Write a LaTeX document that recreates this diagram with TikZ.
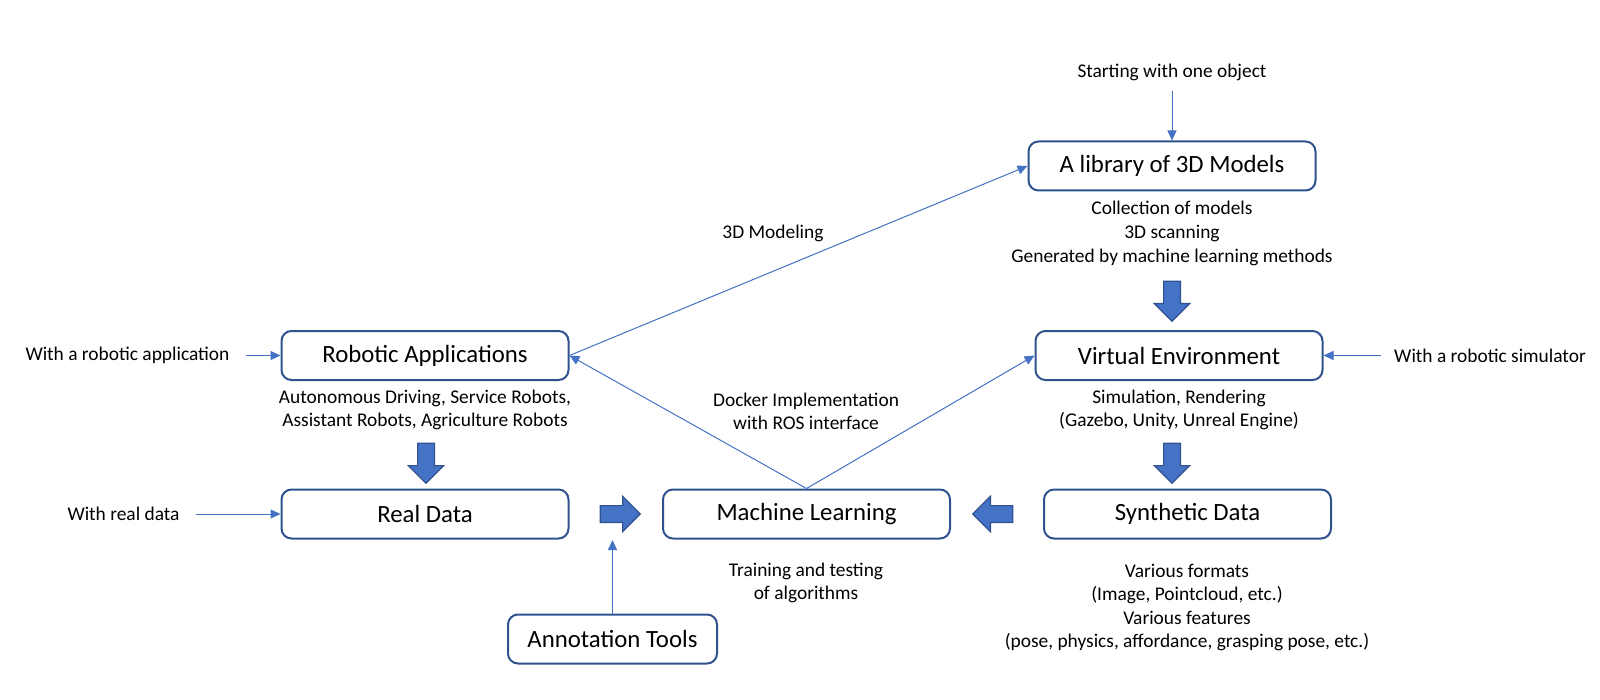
\documentclass[tikz,border=0pt]{standalone}
\usepackage{fontspec}
\setmainfont{Carlito}
\usetikzlibrary{arrows.meta,shapes.arrows}
\definecolor{boxblue}{HTML}{2F528F}
\definecolor{lineblue}{HTML}{4472C4}

\begin{document}
\begin{tikzpicture}[x=0.5pt,y=-0.5pt,
        box/.style={draw=boxblue, line width=1pt, rounded corners=5pt,
                        fill=white, minimum width=143.5pt, minimum height=24.5pt,
                        font=\fontsize{12.4}{14}\selectfont},
        note/.style={align=center, inner sep=1pt,
                        font=\fontsize{9.7}{11.8}\selectfont},
        link/.style={draw=lineblue, line width=0.5pt,
                        -{Triangle[length=5pt,width=4.5pt]}},
        blk/.style={single arrow, draw=boxblue, fill=lineblue, line width=0.6pt,
                        inner xsep=0pt, inner ysep=3.9pt, minimum height=20pt,
                        single arrow head extend=4.6pt}]
    \useasboundingbox (0,0) rectangle (1600,700);
    % boxes
    \node[box] (lib) at (1172,166) {A library of 3D Models};
    \node[box] (ra) at (425,355.5) {Robotic Applications};
    \node[box] (ve) at (1179,355.5) {Virtual Environment};
    \node[box] (rd) at (425,514) {Real Data};
    \node[box] (ml) at (806.5,514) {Machine Learning};
    \node[box] (sd) at (1187.5,514) {Synthetic Data};
    \node[box, minimum width=104.5pt] (at) at (612.5,639) {Annotation Tools};
    % notes
    \node[note] (start) at (1172,72) {Starting with one object};
    \node[note] (libn) at (1172,233.5) {Collection of models\\3D scanning\\Generated by machine learning methods};
    \node[note] (ran) at (425,410) {Autonomous Driving, Service Robots,\\Assistant Robots, Agriculture Robots};
    \node[note] (ven) at (1179,410) {Simulation, Rendering\\(Gazebo, Unity, Unreal Engine)};
    \node[note] (dock) at (806,411.5) {Docker Implementation\\with ROS interface};
    \node[note] (mln) at (806,583) {Training and testing\\of algorithms};
    \node[note] (sdn) at (1187,607.5) {Various formats\\(Image, Pointcloud, etc.)\\Various features\\(pose, physics, affordance, grasping pose, etc.)};
    \node[note] (model) at (773,233) {3D Modeling};
    \node[note, inner xsep=8pt] (wapp) at (127.5,355.5) {With a robotic application};
    \node[note, inner xsep=8pt] (wreal) at (123.5,514) {With real data};
    \node[note, inner xsep=6.5pt] (wsim) at (1490,355.5) {With a robotic simulator};
    % block arrows
    \node[blk, rotate=-90] (b1) at (1172,297) {};
    \node[blk, rotate=-90] (b2) at (426,459) {};
    \node[blk, rotate=-90] (b3) at (1172,459) {};
    \node[blk, rotate=180] (b4) at (997,514) {};
    \node[blk] (b5) at (616,514) {};
    % thin arrows
    \coordinate (atend) at (612.5,540);
    \draw[link, shorten <=4pt] (start) -- (lib);
    \draw[link] (wapp) -- (ra);
    \draw[link] (wreal) -- (rd);
    \draw[link] (wsim) -- (ve);
    \draw[link] (at) -- (atend);
    \draw[link] (ra.east) -- (lib.west);
    \draw[link] (ml.north) -- (ra.east);
    \draw[link] (ml.north) -- (ve.west);
\end{tikzpicture}
\end{document}
